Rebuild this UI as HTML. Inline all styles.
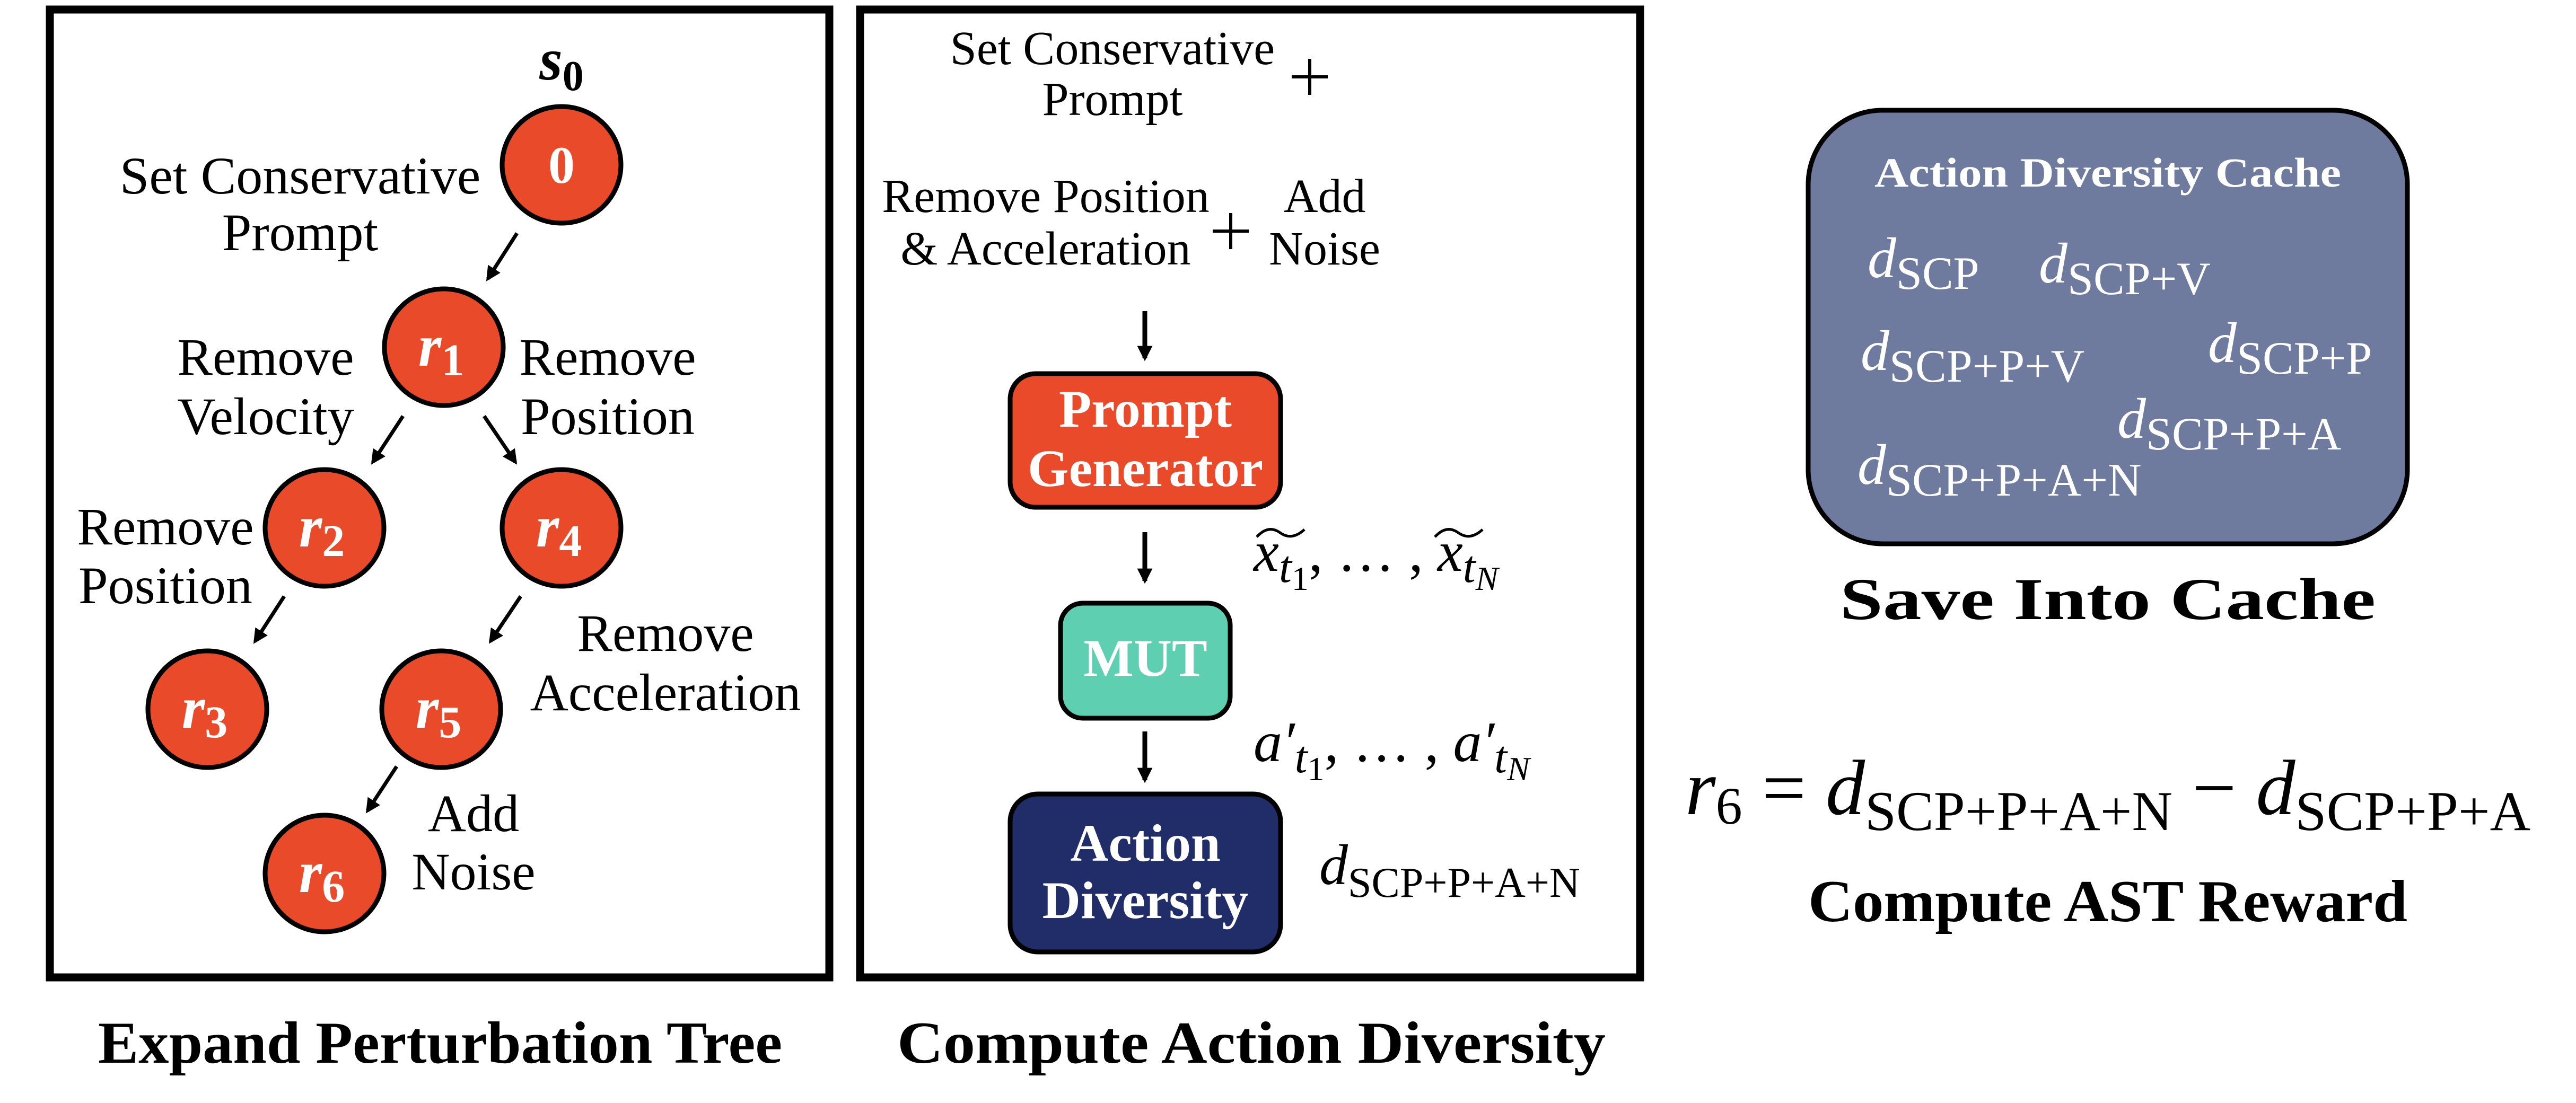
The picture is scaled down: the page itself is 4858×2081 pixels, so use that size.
<!DOCTYPE html>
<html><head><meta charset="utf-8">
<style>html,body{margin:0;padding:0;background:#fff;}svg{display:block;}</style>
</head><body>
<svg width="4858" height="2081" viewBox="0 0 4858 2081" xmlns="http://www.w3.org/2000/svg" font-family="'Liberation Serif', serif">
<defs>
<marker id="ah" markerWidth="4" markerHeight="4" refX="3.2" refY="2" orient="auto" markerUnits="strokeWidth">
<path d="M0,0 L4,2 L0,4 z" fill="#000"/>
</marker>
<marker id="ah2" markerWidth="3.2" markerHeight="3.2" refX="2.6" refY="1.6" orient="auto" markerUnits="strokeWidth">
<path d="M0,0 L3.2,1.6 L0,3.2 z" fill="#000"/>
</marker>
</defs>

<!-- Panel 1 -->
<rect x="94" y="18" width="1470" height="1826" fill="none" stroke="#000" stroke-width="15"/>
<g fill="#e84a2a" stroke="#000" stroke-width="9">
<ellipse cx="1059" cy="311" rx="112" ry="110"/>
<ellipse cx="837" cy="655" rx="112" ry="110"/>
<ellipse cx="612" cy="996" rx="112" ry="110"/>
<ellipse cx="1059" cy="996" rx="112" ry="110"/>
<ellipse cx="391" cy="1338" rx="112" ry="110"/>
<ellipse cx="832" cy="1338" rx="112" ry="110"/>
<ellipse cx="612" cy="1648" rx="112" ry="110"/>
</g>
<g fill="#fff" font-weight="bold" text-anchor="middle">
<text x="1059" y="345" font-size="100">0</text>
<text x="832" y="690" font-size="112" font-style="italic">r<tspan font-size="86" font-style="normal" dy="18">1</tspan></text>
<text x="607" y="1031" font-size="112" font-style="italic">r<tspan font-size="86" font-style="normal" dy="18">2</tspan></text>
<text x="1054" y="1031" font-size="112" font-style="italic">r<tspan font-size="86" font-style="normal" dy="18">4</tspan></text>
<text x="386" y="1373" font-size="112" font-style="italic">r<tspan font-size="86" font-style="normal" dy="18">3</tspan></text>
<text x="827" y="1373" font-size="112" font-style="italic">r<tspan font-size="86" font-style="normal" dy="18">5</tspan></text>
<text x="607" y="1683" font-size="112" font-style="italic">r<tspan font-size="86" font-style="normal" dy="18">6</tspan></text>
</g>
<text x="1059" y="150" font-size="112" font-weight="bold" font-style="italic" text-anchor="middle">s<tspan font-size="80" font-style="normal" dy="20">0</tspan></text>
<g stroke="#000" stroke-width="7" marker-end="url(#ah)">
<line x1="975" y1="440" x2="920" y2="526"/>
<line x1="760" y1="785" x2="703" y2="872"/>
<line x1="913" y1="785" x2="972" y2="872"/>
<line x1="536" y1="1125" x2="481" y2="1210"/>
<line x1="982" y1="1125" x2="925" y2="1210"/>
<line x1="748" y1="1446" x2="693" y2="1530"/>
</g>
<g font-size="100" text-anchor="middle">
<text x="566" y="365">Set Conservative</text>
<text x="566" y="472">Prompt</text>
<text x="501" y="707">Remove</text>
<text x="501" y="819">Velocity</text>
<text x="1146" y="707">Remove</text>
<text x="1146" y="819">Position</text>
<text x="312" y="1027">Remove</text>
<text x="312" y="1138">Position</text>
<text x="1255" y="1228">Remove</text>
<text x="1255" y="1340">Acceleration</text>
<text x="893" y="1568">Add</text>
<text x="893" y="1678">Noise</text>
</g>
<text x="830" y="2005" font-size="112" font-weight="bold" text-anchor="middle" textLength="1290" lengthAdjust="spacingAndGlyphs">Expand Perturbation Tree</text>

<!-- Panel 2 -->
<rect x="1622" y="18" width="1471" height="1826" fill="none" stroke="#000" stroke-width="15"/>
<g font-size="90" text-anchor="middle">
<text x="2098" y="121">Set Conservative</text>
<text x="2098" y="217">Prompt</text>
<text x="1972" y="400">Remove Position</text>
<text x="1972" y="499">&amp; Acceleration</text>
<text x="2498" y="400">Add</text>
<text x="2498" y="499">Noise</text>
</g>
<g stroke="#000" stroke-width="6">
<line x1="2436" y1="145" x2="2504" y2="145"/><line x1="2470" y1="111" x2="2470" y2="179"/>
<line x1="2287" y1="436" x2="2355" y2="436"/><line x1="2321" y1="402" x2="2321" y2="470"/>
</g>
<g stroke="#000" stroke-width="9" marker-end="url(#ah2)">
<line x1="2159" y1="587" x2="2159" y2="676"/>
<line x1="2159" y1="1004" x2="2159" y2="1096"/>
<line x1="2159" y1="1380" x2="2159" y2="1472"/>
</g>
<rect x="1905" y="705" width="510" height="252" rx="48" fill="#e84a2a" stroke="#000" stroke-width="9"/>
<rect x="2000" y="1138" width="320" height="217" rx="42" fill="#5ecfb0" stroke="#000" stroke-width="9"/>
<rect x="1905" y="1498" width="510" height="298" rx="52" fill="#212d69" stroke="#000" stroke-width="9"/>
<g fill="#fff" font-weight="bold" font-size="100" text-anchor="middle">
<text x="2160" y="805">Prompt</text>
<text x="2160" y="917">Generator</text>
<text x="2160" y="1275">MUT</text>
<text x="2160" y="1624">Action</text>
<text x="2160" y="1732">Diversity</text>
</g>
<g font-size="108" font-style="italic">
<text x="2364" y="1077">x<tspan font-size="86" dy="21">t</tspan><tspan font-size="64" font-style="normal" dy="15">1</tspan><tspan font-style="normal" dy="-36">, … , </tspan><tspan>x</tspan><tspan font-size="86" dy="21">t</tspan><tspan font-size="64" dy="15">N</tspan></text>
<text x="2364" y="1436">a′<tspan font-size="86" dy="21">t</tspan><tspan font-size="64" font-style="normal" dy="15">1</tspan><tspan font-style="normal" dy="-36">, … , </tspan><tspan>a′</tspan><tspan font-size="86" dy="21">t</tspan><tspan font-size="64" dy="15">N</tspan></text>
<text x="2488" y="1668">d<tspan font-size="80" font-style="normal" dy="24">SCP+P+A+N</tspan></text>
</g>
<g stroke="#000" stroke-width="5" fill="none">
<path d="M2370,1013 q22,-24 44,-8 t46,-6"/>
<path d="M2706,1013 q22,-24 44,-8 t46,-6"/>
</g>
<text x="2360" y="2005" font-size="112" font-weight="bold" text-anchor="middle" textLength="1336" lengthAdjust="spacingAndGlyphs">Compute Action Diversity</text>

<!-- Panel 3 -->
<rect x="3410" y="208" width="1130" height="818" rx="140" fill="#6e7a9e" stroke="#000" stroke-width="9"/>
<text x="3975" y="352" font-size="78" font-weight="bold" fill="#fff" text-anchor="middle" textLength="880" lengthAdjust="spacingAndGlyphs">Action Diversity Cache</text>
<g fill="#fff" font-size="108" font-style="italic">
<text x="3522" y="523">d<tspan font-size="88" font-style="normal" dy="22">SCP</tspan></text>
<text x="3845" y="533">d<tspan font-size="88" font-style="normal" dy="22">SCP+V</tspan></text>
<text x="3509" y="698">d<tspan font-size="88" font-style="normal" dy="22">SCP+P+V</tspan></text>
<text x="4164" y="683">d<tspan font-size="88" font-style="normal" dy="22">SCP+P</tspan></text>
<text x="3993" y="826">d<tspan font-size="88" font-style="normal" dy="22">SCP+P+A</tspan></text>
<text x="3503" y="913">d<tspan font-size="88" font-style="normal" dy="22">SCP+P+A+N</tspan></text>
</g>
<text x="3975" y="1168" font-size="112" font-weight="bold" text-anchor="middle" textLength="1010" lengthAdjust="spacingAndGlyphs">Save Into Cache</text>
<text x="3178" y="1536" font-size="148" font-style="italic">r<tspan font-size="100" font-style="normal" dy="18">6</tspan><tspan font-style="normal" dy="-18"> = </tspan><tspan>d</tspan><tspan font-size="106" font-style="normal" dy="30">SCP+P+A+N</tspan><tspan font-style="normal" dy="-30"> − </tspan><tspan>d</tspan><tspan font-size="106" font-style="normal" dy="30">SCP+P+A</tspan></text>
<text x="3975" y="1738" font-size="112" font-weight="bold" text-anchor="middle" textLength="1130" lengthAdjust="spacingAndGlyphs">Compute AST Reward</text>
</svg>
</body></html>
